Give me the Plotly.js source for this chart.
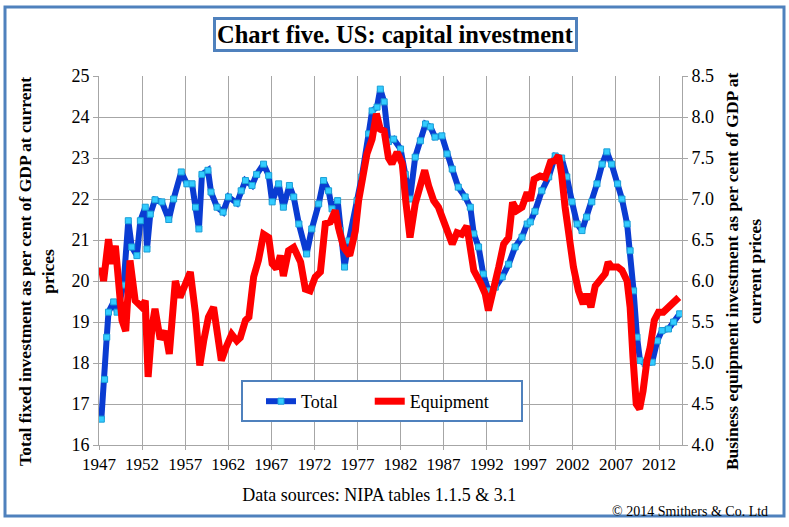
<!DOCTYPE html>
<html>
<head>
<meta charset="utf-8">
<script src="https://cdn.plot.ly/plotly-3.0.1.min.js"></script>
<style>
  html, body { margin: 0; padding: 0; background: #ffffff; }
  #chart { width: 789px; height: 527px; }
</style>
</head>
<body>
<div id="chart"></div>
<script>
// ---- Data ----
const totalYears = [1947.27,1947.65,1947.9,1948.1,1948.7,1949.1,1949.85,1950.4,1950.8,1951.4,1951.8,1952.37,1952.57,1952.95,1953.5,1954.3,1955.1,1955.66,1956.55,1957.2,1957.8,1958.2,1958.6,1958.95,1959.65,1960.0,1960.7,1961.4,1962.04,1963.0,1963.5,1964.0,1964.76,1965.3,1966.1,1966.7,1967.1,1967.85,1968.4,1969.1,1969.6,1970.2,1971.1,1971.7,1972.5,1973.07,1973.65,1974.05,1974.7,1975.0,1975.5,1976.0,1976.95,1977.5,1978.3,1978.7,1979.27,1979.65,1980.1,1980.6,1981.2,1982.0,1982.55,1983.1,1983.7,1984.3,1984.9,1985.46,1986.0,1986.8,1987.4,1988.0,1988.7,1989.5,1990.1,1990.5,1991.06,1991.6,1992.2,1993.0,1993.8,1994.55,1995.3,1996.1,1996.7,1997.06,1997.6,1998.4,1999.2,1999.95,2000.7,2001.3,2001.9,2002.5,2003.06,2003.6,2004.2,2004.8,2005.4,2005.95,2006.5,2007.2,2007.7,2008.3,2008.65,2009.05,2009.45,2009.8,2010.4,2011.2,2011.8,2012.35,2013.1,2013.7,2014.4];
const totalValues = [16.63,17.6,18.63,19.24,19.49,19.24,19.9,21.47,20.83,20.62,21.47,21.8,20.78,21.63,21.98,21.93,21.5,22.0,22.66,22.37,22.37,21.8,21.27,22.6,22.7,22.17,21.8,21.68,22.05,21.9,22.2,22.45,22.33,22.6,22.85,22.57,21.93,22.37,21.8,22.33,22.05,21.39,20.66,21.27,21.88,22.45,22.2,21.76,21.96,21.23,20.34,20.98,21.96,22.54,23.59,24.15,24.24,24.68,24.37,23.4,23.46,23.22,22.6,22.0,23.02,23.42,23.83,23.76,23.51,23.54,23.1,22.73,22.29,22.05,21.8,21.15,20.83,20.17,19.76,19.85,20.1,20.41,20.83,21.07,21.39,21.44,21.7,22.2,22.54,23.05,23.0,22.54,21.93,21.39,21.23,21.56,21.93,22.37,22.85,23.15,22.85,22.37,22.0,21.39,20.74,19.76,18.63,18.06,17.98,18.02,18.54,18.79,18.83,19.0,19.2];

const equipYears = [1947.27,1947.53,1948.1,1948.5,1948.9,1949.67,1950.1,1950.6,1951.2,1951.98,1952.37,1952.7,1953.15,1953.5,1954.1,1954.7,1955.16,1955.86,1956.4,1957.0,1957.6,1958.2,1958.7,1959.15,1959.7,1960.3,1960.7,1961.2,1961.74,1962.4,1963.0,1963.4,1964.0,1964.4,1964.95,1965.5,1966.1,1966.7,1967.1,1967.6,1968.05,1968.4,1969.0,1969.6,1970.4,1970.95,1971.5,1972.1,1972.7,1973.27,1973.85,1974.43,1974.8,1975.4,1976.1,1976.75,1977.13,1977.7,1978.1,1978.7,1979.2,1979.65,1980.1,1980.6,1981.0,1981.6,1982.2,1982.6,1983.1,1983.7,1984.3,1984.8,1985.26,1985.84,1986.4,1987.0,1987.4,1988.0,1988.55,1989.1,1989.7,1990.1,1990.5,1991.26,1991.84,1992.2,1992.8,1993.4,1993.97,1994.55,1995.0,1995.5,1996.1,1996.7,1997.06,1997.5,1998.2,1998.8,1999.4,1999.95,2000.35,2000.7,2001.1,2001.6,2002.07,2002.65,2003.2,2003.6,2004.1,2004.6,2005.2,2005.76,2006.1,2006.5,2007.2,2007.7,2008.3,2008.65,2008.98,2009.36,2009.75,2010.15,2010.6,2010.97,2011.45,2011.94,2012.5,2013.1,2013.7,2014.3];
const equipValues = [6.17,6.0,6.51,6.21,6.43,5.52,5.39,6.25,5.76,5.68,5.76,4.83,5.44,5.66,5.29,5.39,5.11,6.0,5.8,5.94,6.11,5.6,4.97,5.27,5.56,5.68,5.39,5.03,5.19,5.35,5.27,5.31,5.52,5.56,6.05,6.25,6.57,6.53,6.21,6.15,6.31,6.06,6.37,6.41,6.23,5.9,5.88,6.05,6.11,6.7,6.72,6.86,6.65,6.41,6.31,6.61,6.98,7.3,7.55,7.73,8.04,7.85,7.83,7.5,7.43,7.57,7.43,6.98,6.53,6.94,7.14,7.35,7.16,6.98,6.9,6.74,6.61,6.45,6.59,6.57,6.67,6.41,6.13,5.98,5.84,5.64,5.88,6.17,6.45,6.53,6.96,6.86,6.9,7.08,6.98,7.24,7.28,7.26,7.45,7.47,7.53,7.3,6.9,6.45,6.17,5.88,5.72,5.84,5.68,5.94,6.02,6.09,6.23,6.17,6.17,6.13,6.0,5.68,5.07,4.5,4.44,4.66,5.03,5.19,5.52,5.62,5.62,5.68,5.72,5.8];

const leftTicks = [16,17,18,19,20,21,22,23,24,25];
const rightTicks = [4.0,4.5,5.0,5.5,6.0,6.5,7.0,7.5,8.0,8.5];
const xTicks = [1947,1952,1957,1962,1967,1972,1977,1982,1987,1992,1997,2002,2007,2012];

const SERIF = 'Liberation Serif, Times New Roman, serif';
const BORDER = '#4f81bd';
const GRID = '#a6a6a6';
const PAD = '\u00a0\u00a0\u00a0\u00a0\u00a0';

const traces = [
  {
    x: totalYears, y: totalValues, name: 'Total\u00a0\u00a0\u00a0\u00a0\u00a0\u00a0', type: 'scatter', mode: 'lines+markers',
    line: { color: '#0a3cd2', width: 6 },
    marker: { symbol: 'square', size: 6, color: '#33ccff', line: { color: '#1a9fd6', width: 1 } },
    yaxis: 'y'
  },
  {
    x: equipYears, y: equipValues, name: 'Equipment', type: 'scatter', mode: 'lines',
    line: { color: '#ff0000', width: 7 },
    yaxis: 'y2'
  }
];

const layout = {
  width: 789, height: 527,
  paper_bgcolor: '#ffffff', plot_bgcolor: '#ffffff',
  margin: { l: 99, r: 107, t: 76, b: 82 },
  font: { family: SERIF, color: '#000000', size: 17 },
  showlegend: true,
  legend: {
    orientation: 'h', x: (261 - 99) / 583, y: (445 - 383) / 369, xanchor: 'left', yanchor: 'top',
    bgcolor: 'rgba(0,0,0,0)', borderwidth: 0,
    font: { family: SERIF, size: 18, color: '#000000' }
  },
  xaxis: {
    range: [1947, 2014.67], tickmode: 'array', tickvals: xTicks, ticktext: xTicks.map(String),
    showgrid: true, gridcolor: GRID, gridwidth: 1,
    showline: true, linecolor: GRID, linewidth: 1,
    ticks: 'outside', ticklen: 4, tickcolor: GRID,
    zeroline: false,
    tickfont: { family: SERIF, size: 17, color: '#000000' },
    title: { text: '<span>Data sources: NIPA tables 1.1.5 & 3.1' + PAD + '</span>', font: { family: SERIF, size: 18, color: '#000000' }, standoff: 14 }
  },
  yaxis: {
    range: [16, 25], tickmode: 'array', tickvals: leftTicks, ticktext: leftTicks.map(String),
    showgrid: true, gridcolor: GRID, gridwidth: 1,
    showline: true, linecolor: GRID, linewidth: 1,
    ticks: 'outside', ticklen: 5, tickcolor: GRID,
    zeroline: false,
    tickfont: { family: SERIF, size: 18, color: '#000000' },
    title: { text: '<b>Total fixed investment as per cent of GDP at current' + PAD + '<br>prices' + PAD + '</b>', font: { family: SERIF, size: 17.5, color: '#000000' }, standoff: 12 }
  },
  yaxis2: {
    range: [4, 8.5], overlaying: 'y', side: 'right', anchor: 'x',
    tickmode: 'array', tickvals: rightTicks, ticktext: rightTicks.map(v => v.toFixed(1)),
    showgrid: false,
    showline: true, linecolor: GRID, linewidth: 1,
    ticks: 'outside', ticklen: 5, tickcolor: GRID,
    zeroline: false,
    tickfont: { family: SERIF, size: 18, color: '#000000' },
    title: { text: '<b>Business equipment investment as per cent of GDP at' + PAD + '<br>current prices' + PAD + '</b>', font: { family: SERIF, size: 17.5, color: '#000000' }, standoff: 12 }
  },
  shapes: [
    { type: 'rect', xref: 'paper', yref: 'paper',
      x0: (5 - 99) / 583, x1: (784 - 99) / 583, y0: (445 - 516) / 369, y1: (445 - 7) / 369,
      line: { color: BORDER, width: 3 }, fillcolor: 'rgba(0,0,0,0)', layer: 'below' },
    { type: 'rect', xref: 'paper', yref: 'paper',
      x0: (242 - 99) / 583, x1: (522 - 99) / 583, y0: (445 - 421) / 369, y1: (445 - 381) / 369,
      line: { color: BORDER, width: 2 }, fillcolor: '#ffffff', layer: 'above' }
  ],
  annotations: [
    { text: '<b>Chart five. US: capital investment</b>', xref: 'paper', yref: 'paper',
      x: (395 - 99) / 583, y: (445 - 35) / 369, xanchor: 'center', yanchor: 'middle', showarrow: false,
      font: { family: SERIF, size: 24.5, color: '#000000' },
      bordercolor: BORDER, borderwidth: 3, borderpad: 1, bgcolor: '#ffffff' },
    { text: '© 2014 Smithers & Co. Ltd', xref: 'paper', yref: 'paper',
      x: (770 - 99) / 583, y: (445 - 511) / 369, xanchor: 'right', yanchor: 'middle', showarrow: false,
      font: { family: SERIF, size: 14, color: '#000000' } }
  ]
};

Plotly.newPlot('chart', traces, layout, { displayModeBar: false, staticPlot: true });
</script>
</body>
</html>
